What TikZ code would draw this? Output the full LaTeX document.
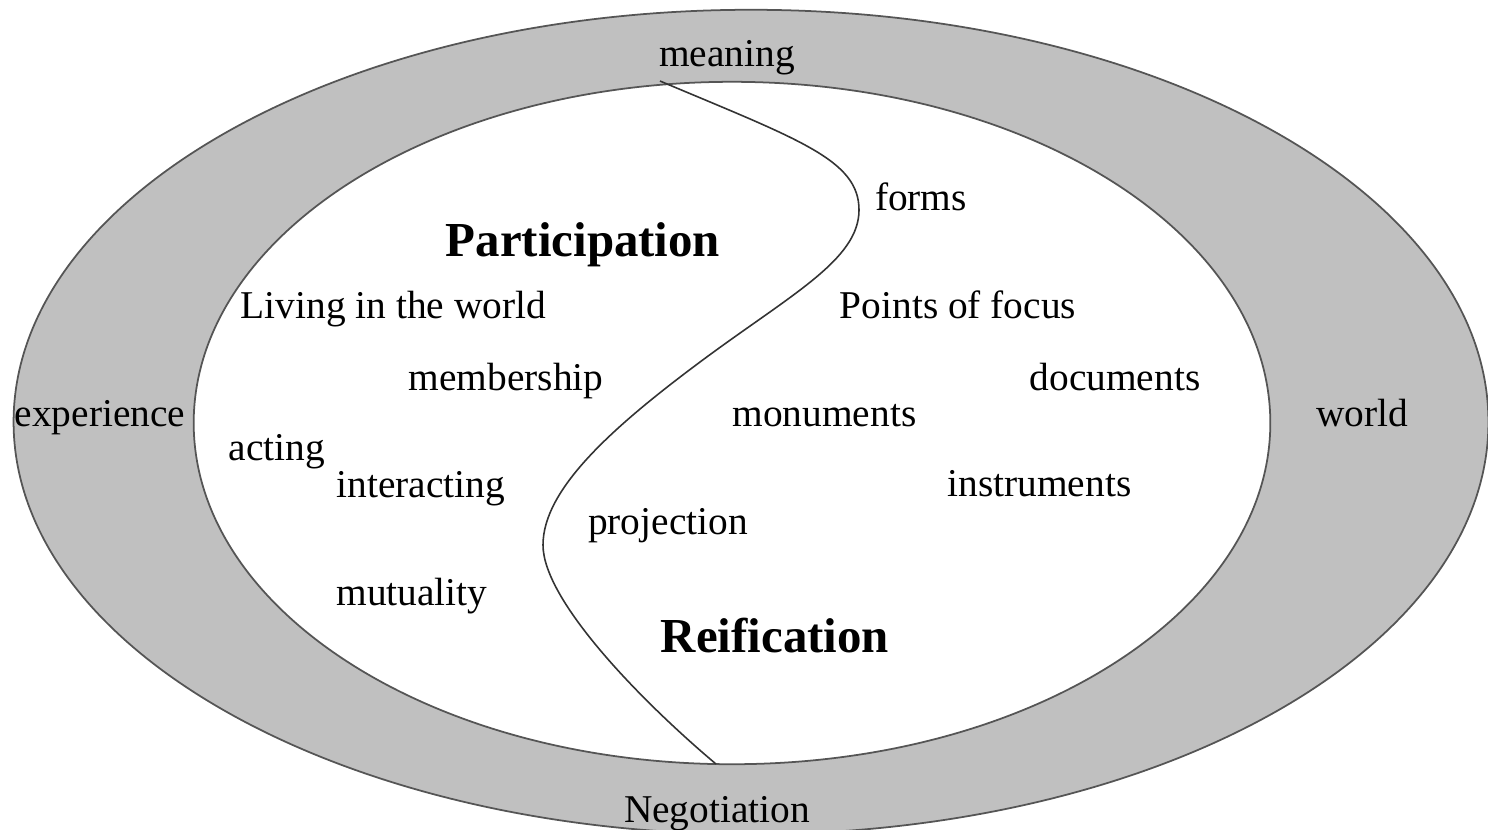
\documentclass[tikz,border=0pt]{standalone}
\usepackage{fontspec}
\setmainfont{Liberation Serif}
\usetikzlibrary{positioning}
\definecolor{ringfill}{HTML}{C0C0C0}
\definecolor{ringborder}{HTML}{555555}
\definecolor{darkline}{HTML}{333333}
\tikzset{
  ring/.style={fill=ringfill, draw=ringborder, line width=0.5pt},
  hole/.style={fill=white, draw=ringborder, line width=0.5pt},
  divider/.style={draw=darkline, line width=0.45pt},
  term/.style={inner sep=0pt, anchor=base, text=black,
               font=\fontsize{11.2}{13}\selectfont},
  pole/.style={term, font=\fontsize{13.9}{16}\selectfont\bfseries},
}
\def\outerrx{7.37cm}
\def\outerry{4.12cm}
\def\innerrx{5.38cm}
\def\innerry{3.41cm}

\begin{document}
\begin{tikzpicture}[x=0.01cm, y=-0.01cm]
\useasboundingbox (0,0) rectangle (1488,829);
\clip (0,0) rectangle (1488,829);

% Negotiation ring and its inner field
\draw[ring] (751,422) ellipse [x radius=\outerrx, y radius=\outerry];
\draw[hole] (732,423) ellipse [x radius=\innerrx, y radius=\innerry];

% Dividing line between the two sides
\coordinate (divtop) at (660,81);
\coordinate (divbot) at (716,764);
\draw[divider] (divtop) .. controls (800,140) and (859,160) .. (859,210)
  .. controls (859,260) and (790,295) .. (700,362)
  .. controls (610,429) and (543,490) .. (543,545)
  .. controls (543,600) and (640,700) .. (divbot);

% Ring labels
\node[term] (meaning) at (727,66.7) {meaning};
\node[term] (negotiation) at (717,822) {Negotiation};
\node[term] (experience) at (100,426) {experience};
\node[term] (world) at (1362,426) {world};

% Participation side
\node[pole] (participation) at (583,256.7) {Participation};
\node[term] (living) at (393.5,318) {Living in the world};
\node[term] (membership) at (506,390) {membership};
\node[term] (acting) at (277,460.7) {acting};
\node[term] (interacting) at (421,497) {interacting};
\node[term] (mutuality) at (412,605) {mutuality};

% Reification side
\node[pole] (reification) at (775,652) {Reification};
\node[term] (forms) at (921,210.7) {forms};
\node[term] (focus) at (958,318) {Points of focus};
\node[term] (documents) at (1115,390.7) {documents};
\node[term] (monuments) at (824.5,426.7) {monuments};
\node[term] (instruments) at (1039.5,496.7) {instruments};
\node[term] (projection) at (668,534) {projection};

\end{tikzpicture}
\end{document}
